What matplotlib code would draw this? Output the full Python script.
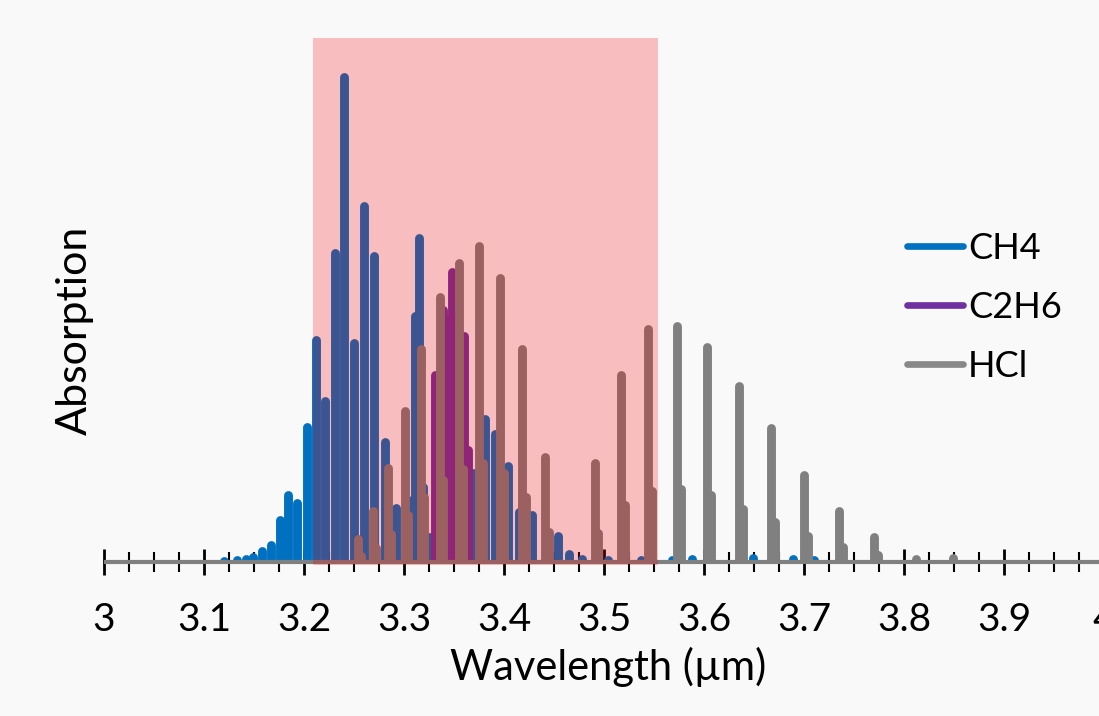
import numpy as np
import matplotlib
matplotlib.use("Agg")
import matplotlib.pyplot as plt
from matplotlib.ticker import MultipleLocator, FuncFormatter

plt.rcParams['font.family'] = ['Lato', 'DejaVu Sans']

# CH4 lines (wavelength um, absorption)
ch4_x = [3.120, 3.133, 3.142, 3.149, 3.158, 3.167, 3.176, 3.184, 3.193, 3.203,
         3.212, 3.221, 3.231, 3.240, 3.250, 3.260, 3.270, 3.281, 3.292, 3.304,
         3.311, 3.315, 3.319, 3.325, 3.369, 3.381, 3.391, 3.404, 3.415, 3.428,
         3.454, 3.465, 3.478, 3.504, 3.537, 3.568, 3.588, 3.649, 3.689, 3.710]
ch4_y = [0.001, 0.003, 0.005, 0.009, 0.021, 0.032, 0.081, 0.127, 0.112, 0.258,
         0.423, 0.308, 0.589, 0.925, 0.417, 0.679, 0.584, 0.229, 0.104, 0.118,
         0.469, 0.619, 0.144, 0.048, 0.170, 0.273, 0.245, 0.183, 0.096, 0.089,
         0.049, 0.016, 0.006, 0.003, 0.004, 0.004, 0.005, 0.008, 0.006, 0.004]

# C2H6 lines
c2h6_x = [3.331, 3.335, 3.339, 3.344, 3.348, 3.352, 3.356, 3.360, 3.364]
c2h6_y = [0.356, 0.300, 0.480, 0.461, 0.553, 0.450, 0.420, 0.431, 0.213]

# HCl lines (H35Cl) and the weaker H37Cl shoulders
hcl_x = [3.254, 3.269, 3.284, 3.301, 3.317, 3.336, 3.355, 3.375, 3.396, 3.418,
         3.441, 3.491, 3.517, 3.544, 3.573, 3.603, 3.635, 3.667, 3.700, 3.735,
         3.770, 3.812, 3.849]
hcl_y = [0.043, 0.098, 0.180, 0.288, 0.407, 0.505, 0.571, 0.603, 0.542, 0.407,
         0.201, 0.188, 0.356, 0.444, 0.450, 0.411, 0.335, 0.255, 0.166, 0.098,
         0.048, 0.006, 0.008]
hcl37_x = [3.257, 3.272, 3.287, 3.304, 3.320, 3.339, 3.359, 3.379, 3.400, 3.422,
           3.445, 3.494, 3.521, 3.548, 3.577, 3.607, 3.639, 3.671, 3.704, 3.739,
           3.774]
hcl37_y = [0.012, 0.026, 0.054, 0.089, 0.125, 0.156, 0.178, 0.188, 0.169, 0.125,
           0.058, 0.055, 0.108, 0.135, 0.140, 0.127, 0.102, 0.077, 0.049, 0.028,
           0.014]

# highlighted band
band = (3.209, 3.554)

c_ch4 = '#0070C0'
c_c2h6 = '#7030A0'
c_hcl = '#808080'

fig = plt.figure(figsize=(10.99, 7.16), dpi=100, facecolor='#f9f9fa')
ax = fig.add_axes([104/1099, 1 - 562/716, 1000/1099, 524/716])
ax.set_facecolor('none')

lw = 6.4
ax.vlines(ch4_x, 0, ch4_y, color=c_ch4, lw=lw, capstyle='round', zorder=2)
ax.vlines(c2h6_x, 0, c2h6_y, color=c_c2h6, lw=lw, capstyle='round', zorder=2.1)
ax.vlines(hcl37_x, 0, hcl37_y, color=c_hcl, lw=lw, capstyle='round', zorder=2.2)
ax.vlines(hcl_x, 0, hcl_y, color=c_hcl, lw=lw, capstyle='round', zorder=2.2)
ax.hlines(0, 3.0, 4.0, color=c_hcl, lw=3, zorder=2.3, clip_on=False)

ax.axvspan(band[0], band[1], ymin=-0.006, ymax=1, color='#f50000', alpha=0.24,
           lw=0, zorder=3, clip_on=False)

# legend proxies
ax.plot([], [], color=c_ch4, lw=4.8, solid_capstyle='round', label='CH4')
ax.plot([], [], color=c_c2h6, lw=4.8, solid_capstyle='round', label='C2H6')
ax.plot([], [], color='#888888', lw=4.8, solid_capstyle='round', label='HCl')
ax.legend(loc='upper left', bbox_to_anchor=(907/1099, 1 - 232/716),
          bbox_transform=fig.transFigure, frameon=False, fontsize=26,
          handlelength=1.55, handletextpad=0.14, labelspacing=0.72,
          borderpad=0, borderaxespad=0)

ax.set_xlim(3.0, 4.0)
ax.set_ylim(0, 1)
ax.xaxis.set_major_locator(MultipleLocator(0.1))
ax.xaxis.set_minor_locator(MultipleLocator(0.025))
ax.xaxis.set_major_formatter(FuncFormatter(lambda v, p: '%g' % round(v, 2)))
ax.tick_params(axis='x', which='major', direction='inout', length=19, width=2,
               labelsize=28, pad=19, color='black')
ax.tick_params(axis='x', which='minor', direction='inout', length=14, width=1.5,
               color='black')
ax.set_yticks([])
for s in ax.spines.values():
    s.set_visible(False)

fig.text(75/1099, 1 - 330/716, 'Absorption', rotation=90, ha='center',
         va='center', fontsize=31)
fig.text(608/1099, 1 - 667/716, 'Wavelength (µm)', ha='center', va='center',
         fontsize=30)

fig.savefig('out.png', dpi=100, facecolor=fig.get_facecolor())
